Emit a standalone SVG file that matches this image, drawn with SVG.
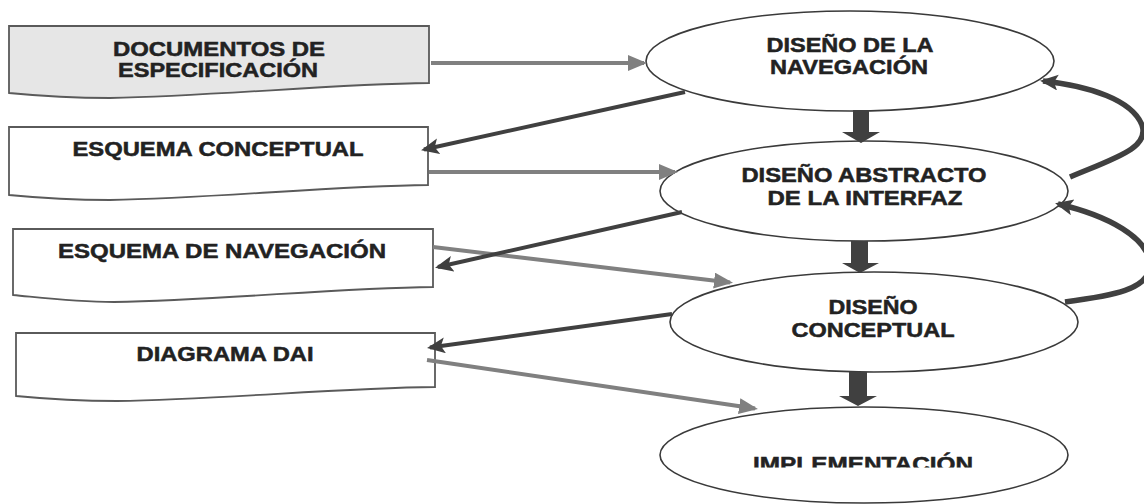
<svg xmlns="http://www.w3.org/2000/svg" width="1144" height="504" viewBox="0 0 1144 504">
<style>
.doc{fill:#fff;stroke:#5a5a5a;stroke-width:1.8}
.doc.gray{fill:#e6e6e6}
.ell{fill:#fff;stroke:#3a3a3a;stroke-width:1.6}
.t{font-family:"Liberation Sans",Arial,sans-serif;font-weight:bold;font-size:20px;fill:#222;stroke:#222;stroke-width:0.5;text-anchor:middle}
.g{fill:none;stroke:#808080;stroke-width:4}
.d{fill:none;stroke:#404040;stroke-width:4}
.c{fill:none;stroke:#404040;stroke-width:5.5}
.blk{fill:#404040}
</style>
<defs>
<marker id="mg" markerUnits="userSpaceOnUse" markerWidth="20" markerHeight="18" refX="16" refY="8" orient="auto"><path d="M0,0 L19,8 L0,16 Z" fill="#808080"/></marker>
<marker id="md" markerUnits="userSpaceOnUse" markerWidth="20" markerHeight="18" refX="15" refY="8" orient="auto"><path d="M0,0 L18,8 L0,16 L4,8 Z" fill="#404040"/></marker>
<clipPath id="clipImpl"><rect x="600" y="400" width="500" height="67.5"/></clipPath>
</defs>
<g id="doc-especificacion">
<path class="doc gray" d="M9,26 H429 V83 C330,84 220,96 110,98 C70,98 40,96 9,93 Z"/>
<text class="t" x="219" y="56" textLength="212" lengthAdjust="spacingAndGlyphs">DOCUMENTOS DE</text>
<text class="t" x="218" y="77" textLength="200" lengthAdjust="spacingAndGlyphs">ESPECIFICACIÓN</text>
</g>
<g id="esquema-conceptual">
<path class="doc" d="M9,127 H428 V185 C330,186 220,198 110,200 C70,200 40,198 9,195 Z"/>
<text class="t" x="218" y="156" textLength="291" lengthAdjust="spacingAndGlyphs">ESQUEMA CONCEPTUAL</text>
</g>
<g id="esquema-navegacion">
<path class="doc" d="M13,229 H433 V287 C335,288 225,300 114,302 C74,302 44,298 13,295 Z"/>
<text class="t" x="222" y="258" textLength="328" lengthAdjust="spacingAndGlyphs">ESQUEMA DE NAVEGACIÓN</text>
</g>
<g id="diagrama-dai">
<path class="doc" d="M16,333 H435 V387 C337,388 227,399 117,401 C77,401 47,399 16,396 Z"/>
<text class="t" x="225" y="361" textLength="177" lengthAdjust="spacingAndGlyphs">DIAGRAMA DAI</text>
</g>
<g id="diseno-navegacion">
<ellipse class="ell" cx="850" cy="61" rx="204" ry="50"/>
<text class="t" x="850" y="52" textLength="167" lengthAdjust="spacingAndGlyphs">DISEÑO DE LA</text>
<text class="t" x="849" y="74" textLength="158" lengthAdjust="spacingAndGlyphs">NAVEGACIÓN</text>
</g>
<g id="diseno-abstracto">
<ellipse class="ell" cx="864" cy="191" rx="204" ry="50"/>
<text class="t" x="864" y="182" textLength="245" lengthAdjust="spacingAndGlyphs">DISEÑO ABSTRACTO</text>
<text class="t" x="865" y="205" textLength="195" lengthAdjust="spacingAndGlyphs">DE LA INTERFAZ</text>
</g>
<g id="diseno-conceptual">
<ellipse class="ell" cx="874" cy="322" rx="204" ry="50"/>
<text class="t" x="873" y="314" textLength="89" lengthAdjust="spacingAndGlyphs">DISEÑO</text>
<text class="t" x="873" y="337" textLength="163" lengthAdjust="spacingAndGlyphs">CONCEPTUAL</text>
</g>
<g id="implementacion">
<ellipse class="ell" cx="864" cy="455" rx="204" ry="48"/>
<text class="t" x="863" y="471" textLength="220" lengthAdjust="spacingAndGlyphs" clip-path="url(#clipImpl)">IMPLEMENTACIÓN</text>
</g>
<g id="connectors">
<line class="g" x1="431" y1="63" x2="644" y2="63" marker-end="url(#mg)"/>
<line class="g" x1="429" y1="172" x2="675" y2="172" marker-end="url(#mg)"/>
<line class="g" x1="433" y1="247" x2="730" y2="282.5" marker-end="url(#mg)"/>
<line class="g" x1="427" y1="360" x2="755" y2="408.5" marker-end="url(#mg)"/>
<line class="d" x1="685" y1="92" x2="424" y2="149.5" marker-end="url(#md)"/>
<line class="d" x1="682" y1="212" x2="438" y2="267" marker-end="url(#md)"/>
<line class="d" x1="672" y1="314" x2="430" y2="347.5" marker-end="url(#md)"/>
<path class="c" d="M1070,177 C1115,158 1150,148 1142,125 C1132,100 1090,86 1043,81" marker-end="url(#md)"/>
<path class="c" d="M1065,302 C1110,296 1152,290 1150,263 C1147,238 1110,216 1058,204" marker-end="url(#md)"/>
<path class="blk" d="M853,110 H869 V132 H880 L861,143 L842,132 H853 Z"/>
<path class="blk" d="M851,241 H868 V263 H879 L860,273 L842,263 H851 Z"/>
<path class="blk" d="M849,372 H867 V396 H877 L858,406 L839,396 H849 Z"/>
</g>
</svg>
